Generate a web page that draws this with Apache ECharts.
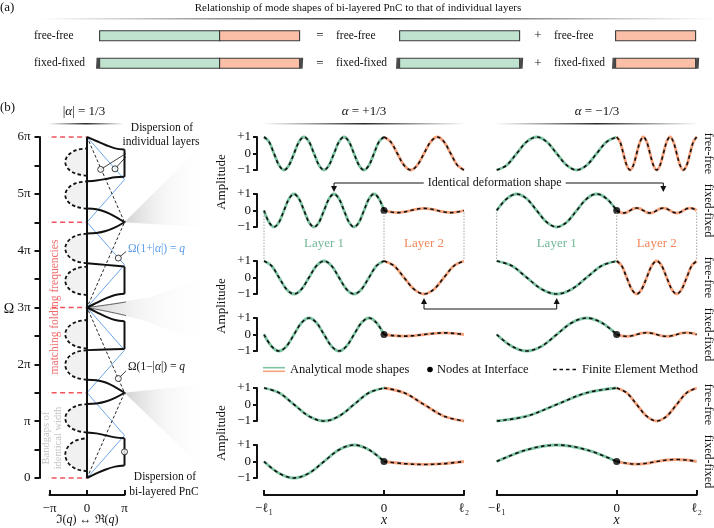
<!DOCTYPE html>
<html><head><meta charset="utf-8">
<script src="https://cdn.jsdelivr.net/npm/echarts@6.0.0/dist/echarts.min.js"></script>
<style>html,body{margin:0;padding:0;background:#fff;}#c{width:714px;height:528px;}</style>
</head><body><div id="c"></div>
<script>
// ================= DATA =================
// (a) schematic
const schematicRows = ['free-free', 'fixed-fixed'];
const layerLengths = [1.5, 1];            // l1, l2 (display units)
const barStarts = [0, 3.75, 6.45];        // bi-layer, layer 1 alone, layer 2 alone

// (b) dispersion, q in units of pi, Omega in units of pi
const omegaTicks = ['0', 'π', '2π', '3π', '4π', '5π', '6π'];
const qTicks = ['−π', '0', 'π'];
const foldMatch = [0, 1.5, 3, 4.5, 6];    // matching folding frequencies
const layer1Disp = [[0,0],[1,0.75],[0,1.5],[1,2.25],[0,3],[1,3.75],[0,4.5],[1,5.25],[0,6]];
const layer2Disp = [[0,0],[1,1.5],[0,3],[1,4.5],[0,6]];
const band1  = [[0,0],[0.25,0.08],[0.5,0.15],[0.75,0.2],[1,0.22]];
const band2  = [[1,0.70],[0.75,0.715],[0.5,0.75],[0.25,0.785],[0,0.80]];
const band3  = [[0,1.30],[0.25,1.31],[0.5,1.345],[0.75,1.41],[1,1.5]];
const band4  = [[1,1.5],[0.75,1.6],[0.5,1.68],[0.25,1.72],[0,1.73]];
const band5  = [[0,2.25],[0.5,2.26],[1,2.27]];
const band6  = [[1,2.76],[0.75,2.78],[0.5,2.84],[0.25,2.92],[0,3]];
const band7  = [[0,3],[0.25,3.08],[0.5,3.16],[0.75,3.22],[1,3.24]];
const band8  = [[1,3.72],[0.5,3.75],[0,3.78]];
const band9  = [[0,4.30],[0.25,4.31],[0.5,4.345],[0.75,4.41],[1,4.5]];
const band10 = [[1,4.5],[0.75,4.6],[0.5,4.68],[0.25,4.73],[0,4.74]];
const band11 = [[0,5.22],[0.25,5.235],[0.5,5.26],[0.75,5.29],[1,5.30]];
const band12 = [[1,5.78],[0.75,5.8],[0.5,5.86],[0.25,5.93],[0,6]];
const gapsAtPi = [[0.22,0.70],[2.27,2.76],[3.24,3.72],[5.30,5.78]];
const loopQ = [0,-0.29,-0.5,-0.58,-0.5,-0.29,0];
const loopOmega = [
  [0.12,0.159,0.265,0.41,0.555,0.661,0.70],
  [0.80,0.835,0.925,1.05,1.175,1.267,1.30],
  [1.73,1.765,1.86,1.99,2.12,2.215,2.25],
  [2.28,2.313,2.405,2.53,2.655,2.747,2.78],
  [3.22,3.253,3.345,3.47,3.595,3.687,3.72],
  [3.78,3.815,3.91,4.04,4.17,4.265,4.30],
  [4.74,4.772,4.86,4.98,5.10,5.188,5.22],
  [5.32,5.352,5.44,5.56,5.68,5.768,5.80]];
// wedges linking dispersion to mode shapes
const wedge45Upper = [[1,4.5],[3.39,6.07]];
const wedge45Lower = [[1,4.5],[3.39,4.40]];
const wedge3Upper = [[0,3],[1.68,3.18],[2.75,3.43],[3.39,3.80]];
const wedge3Lower = [[0,3],[1.49,2.78],[2.67,2.48],[3.39,2.25]];
const wedge15Upper = [[1,1.5],[3.39,1.67]];
const wedge15Lower = [[1,1.5],[3.39,-0.03]];
// annotation markers
const markIndiv = [[0.365,5.43],[0.747,5.44]];
const markBlue = [0.835,3.87];
const markBlack = [0.835,1.75];
const markBi = [1,0.46];

// mode shapes (amplitude samples, evenly spread over layer 1 [-l1,0] and layer 2 [0,l2])
const modeRows = ['free-free','fixed-fixed','free-free','fixed-fixed','free-free','fixed-fixed'];
const posR1L1 = [1,.71,0,-.71,-1,-.71,0,.71,1,.71,0,-.71,-1,-.71,0,.71,1,.71,0,-.71,-1,-.71,0,.71,1];
const posR1L2 = [1,.71,0,-.71,-1,-.71,0,.71,1,.71,0,-.71,-1];
const posR2L1 = [0,-.71,-1,-.71,0,.71,1,.71,0,-.71,-1,-.71,0,.71,1,.71,0,-.71,-1,-.71,0,.71,1,.71,0];
const posR2L2 = [0,-.09,-.13,-.09,0,.09,.13,.09,0,-.09,-.13,-.09,0];
const posR3L1 = [1,.71,0,-.71,-1,-.71,0,.71,1,.71,0,-.71,-1,-.71,0,.71,1];
const posR3L2 = [1,.71,0,-.71,-1,-.71,0,.71,1];
const posR4L1 = [0,-.71,-1,-.71,0,.71,1,.71,0,-.71,-1,-.71,0,.71,1,.71,0];
const posR4L2 = [0,-.07,-.1,-.07,0,.07,.1,.07,0];
const posR5L1 = [1,.71,0,-.71,-1,-.71,0,.71,1];
const posR5L2 = [1,.71,0,-.71,-1];
const posR6L1 = [0,-.71,-1,-.71,0,.71,1,.71,0];
const posR6L2 = [0,-.13,-.18,-.13,0];
const negR1L1 = [-1,-.71,0,.71,1,.71,0,-.71,-1,-.71,0,.71,1];
const negR1L2 = [1,.71,0,-.71,-1,-.71,0,.71,1,.71,0,-.71,-1,-.71,0,.71,1,.71,0,-.71,-1,-.71,0,.71,1];
const negR2L1 = [0,.71,1,.71,0,-.71,-1,-.71,0,.71,1,.71,0];
const negR2L2 = [0,-.11,-.15,-.11,0,.11,.15,.11,0,-.11,-.15,-.11,0,.11,.15,.11,0,-.11,-.15,-.11,0,.11,.15,.11,0];
const negR3L1 = [1,.71,0,-.71,-1,-.71,0,.71,1];
const negR3L2 = [1,.71,0,-.71,-1,-.71,0,.71,1,.71,0,-.71,-1,-.71,0,.71,1];
const negR4L1 = [0,-.71,-1,-.71,0,.71,1,.71,0];
const negR4L2 = [0,-.08,-.11,-.08,0,.08,.11,.08,0,-.08,-.11,-.08,0,.08,.11,.08,0];
const negR5L1 = [-1,-.71,0,.71,1];
const negR5L2 = [1,.71,0,-.71,-1,-.71,0,.71,1];
const negR6L1 = [0,.71,1,.71,0];
const negR6L2 = [0,-.11,-.16,-.11,0,.09,.12,.09,0];
const shapesPos = [[posR1L1,posR1L2],[posR2L1,posR2L2],[posR3L1,posR3L2],[posR4L1,posR4L2],[posR5L1,posR5L2],[posR6L1,posR6L2]];
const shapesNeg = [[negR1L1,negR1L2],[negR2L1,negR2L2],[negR3L1,negR3L2],[negR4L1,negR4L2],[negR5L1,negR5L2],[negR6L1,negR6L2]];
const xTickVals = [-1.5, 0, 1];
const xTickLabels = ['−ℓ₁', '0', 'ℓ₂'];

// ================= BUILD =================
const SERIF = '"Liberation Serif","DejaVu Serif",serif';
const GREEN = '#7cc3a1', ORANGE = '#f5a27d', GREEN_FILL = '#bfe3cf', ORANGE_FILL = '#fbbfa7';
const INK = '#111';
const grids = [], xAxes = [], yAxes = [], series = [];
const AXLINE = {show:true, onZero:false, lineStyle:{color:INK, width:2}};

// ---- grid 0 : schematic (a)
grids.push({left:0, top:22, width:714, height:55, outerBoundsMode:'none'});
xAxes.push({type:'value', gridIndex:0, min:-1.245, max:-1.245 + 714/80, show:false});
yAxes.push({type:'category', gridIndex:0, data:schematicRows, inverse:true, show:false});
const segs = [];
schematicRows.forEach((r, i) => {
  const l1 = layerLengths[0], l2 = layerLengths[1];
  segs.push([barStarts[0], barStarts[0] + l1, i, 0]);
  segs.push([barStarts[0] + l1, barStarts[0] + l1 + l2, i, 1]);
  segs.push([barStarts[1], barStarts[1] + l1, i, 0]);
  segs.push([barStarts[2], barStarts[2] + l2, i, 1]);
});
const caps = [
  [barStarts[0], 1, -1], [barStarts[0] + layerLengths[0] + layerLengths[1], 1, 1],
  [barStarts[1], 1, -1], [barStarts[1] + layerLengths[0], 1, 1],
  [barStarts[2], 1, -1], [barStarts[2] + layerLengths[1], 1, 1]];
series.push({type:'custom', xAxisIndex:0, yAxisIndex:0, data:segs, encode:{x:[0,1], y:2}, silent:true,
  renderItem:(p, api) => {
    const s = api.coord([api.value(0), api.value(2)]), e = api.coord([api.value(1), api.value(2)]);
    return {type:'rect', shape:{x:s[0], y:s[1]-5, width:e[0]-s[0], height:10},
      style:{fill: api.value(3) === 1 ? ORANGE_FILL : GREEN_FILL, stroke:'#3a3a3a', lineWidth:1.1}};
  }});
series.push({type:'custom', xAxisIndex:0, yAxisIndex:0, data:caps, encode:{x:0, y:1}, silent:true,
  renderItem:(p, api) => {
    const c = api.coord([api.value(0), api.value(1)]);
    const side = api.value(2);
    const x0 = side < 0 ? c[0] - 3.6 : c[0];
    return {type:'polygon', shape:{points:[[x0+0.6,c[1]-5.6],[x0+3.6,c[1]-5.6],[x0+3,c[1]+5.6],[x0,c[1]+5.6]]},
      style:{fill:'#4a4a4a'}};
  }});

// ---- grid 1 : dispersion
grids.push({left:49.5, top:137, width:75, height:341, outerBoundsMode:'none'});
xAxes.push({type:'value', gridIndex:1, min:-1, max:1, interval:1, offset:17, position:'bottom',
  axisLine:AXLINE,
  axisTick:{show:true, inside:true, length:5, lineStyle:{color:INK, width:2}},
  axisLabel:{formatter: v => qTicks[Math.round(v) + 1], fontSize:13, color:INK, fontFamily:SERIF, margin:7, showMinLabel:true, showMaxLabel:true},
  splitLine:{show:false}});
yAxes.push({type:'value', gridIndex:1, min:0, max:6, interval:0.5, offset:10, position:'left',
  axisLine:AXLINE,
  axisTick:{show:true, length:5, lineStyle:{color:INK, width:2}},
  axisLabel:{formatter: v => Math.abs(v - Math.round(v)) < 1e-6 ? omegaTicks[Math.round(v)] : '', fontSize:13, color:INK, fontFamily:SERIF, margin:9},
  splitLine:{show:false}});

const D = {xAxisIndex:1, yAxisIndex:1, symbol:'none', silent:true, clip:false, animation:false};
function poly(pts, fill, z) {
  return {type:'custom', xAxisIndex:1, yAxisIndex:1, z:z, silent:true, clip:false, data:[pts[0]],
    renderItem:(p, api) => ({type:'polygon', shape:{points:pts.map(q => api.coord(q))}, style:{fill:fill}})};
}
const wedgeFill = () => new echarts.graphic.LinearGradient(0,0,1,0,[
  {offset:0, color:'rgba(190,190,190,0.7)'}, {offset:0.45, color:'rgba(230,230,230,0.35)'}, {offset:1, color:'rgba(255,255,255,0)'}]);
series.push(poly([wedge45Upper[0], wedge45Upper[1], wedge45Lower[1]], wedgeFill(), 1));
series.push(poly(wedge3Upper.concat(wedge3Lower.slice(1).reverse()), wedgeFill(), 1));
series.push(poly([wedge15Upper[0], wedge15Upper[1], wedge15Lower[1]], wedgeFill(), 1));
[wedge45Upper, wedge45Lower, wedge15Upper, wedge15Lower].forEach(w =>
  series.push(Object.assign({type:'line', data:w, z:2, lineStyle:{color:'#555', width:0.9}}, D)));
[wedge3Upper, wedge3Lower].forEach(w =>
  series.push(Object.assign({type:'line', data:w, smooth:0.4, z:2, lineStyle:{color:'#555', width:0.9}}, D)));
foldMatch.forEach(o => series.push(Object.assign({type:'line', data:[[-1.17,o],[0,o]], z:3,
  lineStyle:{color:'#f0525e', width:1.3, type:[5,3.5]}}, D)));
loopOmega.forEach(om => {
  const pts = om.map((o, i) => [loopQ[i], o]);
  series.push(poly(pts, '#f1f1f1', 2));
  series.push(Object.assign({type:'line', data:pts, smooth:0.35, z:5, lineStyle:{color:INK, width:1.8, type:[3.5,2.5]}}, D));
});
series.push(Object.assign({type:'line', data:layer1Disp, z:4, lineStyle:{color:'#6ea6ea', width:1}}, D));
series.push(Object.assign({type:'line', data:layer2Disp, z:4, lineStyle:{color:INK, width:0.9, type:[3,2]}}, D));
series.push(Object.assign({type:'line', data:[[0,0],[0,6]], z:6, lineStyle:{color:INK, width:2}}, D));
[band1,band2,band3,band4,band5,band6,band7,band8,band9,band10,band11,band12].forEach(b =>
  series.push(Object.assign({type:'line', data:b, smooth:0.35, z:6, lineStyle:{color:INK, width:2}}, D)));
gapsAtPi.forEach(g => series.push(Object.assign({type:'line', data:[[1,g[0]],[1,g[1]]], z:6, lineStyle:{color:INK, width:2}}, D)));
const ptr = (a, b) => series.push(Object.assign({type:'line', data:[a,b], z:7, lineStyle:{color:INK, width:0.8}}, D));
ptr(markIndiv[0], [1.23,5.79]); ptr(markIndiv[1], [1.23,5.79]);
ptr(markBlue, [1.05,3.99]); ptr(markBlack, [1.05,1.89]); ptr(markBi, [1.44,0.11]);
series.push({type:'scatter', xAxisIndex:1, yAxisIndex:1, z:8, silent:true, symbolSize:6,
  data:[markIndiv[0], markIndiv[1], markBlue, markBlack, markBi],
  itemStyle:{color:'#fff', borderColor:INK, borderWidth:1}});

// ---- grids 2..13 : mode shapes
const rowTops = [137,194,261,318,388,445], rowH = 33, colLefts = [264,496.7], colW = 200;
const toPts = (ys, a, b) => ys.map((y, i) => [a + (b - a) * i / (ys.length - 1), y]);
const gIdx = (r, c) => 2 + r * 2 + c;
for (let r = 0; r < 6; r++) {
  for (let c = 0; c < 2; c++) {
    const gi = gIdx(r, c);
    grids.push({left:colLefts[c], top:rowTops[r], width:colW, height:rowH, outerBoundsMode:'none'});
    if (r === 5) {
      xAxes.push({type:'value', gridIndex:gi, min:-1.5, max:1, offset:17, position:'bottom',
        axisLine:AXLINE,
        axisTick:{show:true, inside:true, length:5, customValues:xTickVals, lineStyle:{color:INK, width:2}},
        axisLabel:{customValues:xTickVals, formatter: v => xTickLabels[xTickVals.indexOf(v)], fontSize:13, color:INK, fontFamily:SERIF, margin:7, showMinLabel:true, showMaxLabel:true},
        splitLine:{show:false}});
    } else {
      xAxes.push({type:'value', gridIndex:gi, min:-1.5, max:1, show:false});
    }
    if (c === 0) {
      yAxes.push({type:'value', gridIndex:gi, min:-1, max:1, interval:1, offset:7, position:'left',
        axisLine:AXLINE,
        axisTick:{show:true, length:4, lineStyle:{color:INK, width:2}},
        axisLabel:{formatter: v => v > 0 ? '+1' : (v < 0 ? '−1' : '0'), fontSize:13, color:INK, fontFamily:SERIF, margin:6, showMinLabel:true, showMaxLabel:true},
        splitLine:{show:false}});
    } else {
      yAxes.push({type:'value', gridIndex:gi, min:-1, max:1, show:false});
    }
    const sh = (c === 0 ? shapesPos : shapesNeg)[r];
    const p1 = toPts(sh[0], -1.5, 0), p2 = toPts(sh[1], 0, 1);
    const base = {xAxisIndex:gi, yAxisIndex:gi, type:'line', symbol:'none', smooth:0.35, silent:true, clip:false};
    series.push(Object.assign({data:p1, z:3, lineStyle:{color:GREEN, width:2.8}}, base));
    series.push(Object.assign({data:p2, z:3, lineStyle:{color:ORANGE, width:2.8}}, base));
    series.push(Object.assign({data:p1, z:4, lineStyle:{color:INK, width:1.6, type:[3.5,3.2]}}, base));
    series.push(Object.assign({data:p2, z:4, lineStyle:{color:INK, width:1.6, type:[3.5,3.2]}}, base));
    if (modeRows[r] === 'fixed-fixed') {
      series.push({type:'scatter', xAxisIndex:gi, yAxisIndex:gi, z:5, silent:true, symbolSize:7, data:[[0,0]], itemStyle:{color:'#000'}});
    }
  }
}

const chart = echarts.init(document.getElementById('c'), null, {renderer:'canvas'});
chart.setOption({animation:false, backgroundColor:'#fff', textStyle:{fontFamily:SERIF},
  grid:grids, xAxis:xAxes, yAxis:yAxes, series:series});

// ================= ANNOTATIONS =================
const px = (g, v) => chart.convertToPixel({xAxisIndex:g, yAxisIndex:g}, v);
function txt(text, x, y, o) {
  o = o || {};
  const size = o.size || 12, color = o.color || INK;
  const font = (o.italic ? 'italic ' : '') + size + 'px ' + SERIF;
  const st = {text:text, x:0, y:0, fill:color, font:font, align:o.align || 'center', verticalAlign:'middle',
    textAlign:o.align || 'center', textVerticalAlign:'middle'};
  if (o.rich) {
    st.rich = {i:{font:'italic ' + size + 'px ' + SERIF, fontStyle:'italic', fontSize:size, fontFamily:SERIF, fill:color},
               n:{font:size + 'px ' + SERIF, fontSize:size, fontFamily:SERIF, fill:color}};
  }
  return {type:'text', x:x, y:y, rotation:o.rot || 0, z:100, silent:true, style:st};
}
const line = (x1, y1, x2, y2, st) => ({type:'line', z:90, silent:true, shape:{x1, y1, x2, y2}, style:Object.assign({stroke:INK, lineWidth:1}, st || {})});
const underline = (x1, x2, y) => ({type:'rect', z:90, silent:true, shape:{x:x1, y:y, width:x2 - x1, height:1.4},
  style:{fill:new echarts.graphic.LinearGradient(0,0,1,0,[{offset:0,color:'rgba(60,60,60,0)'},{offset:0.5,color:'rgba(40,40,40,1)'},{offset:1,color:'rgba(60,60,60,0)'}])}});
const arrowHead = (x, y, dir) => ({type:'polygon', z:91, silent:true,
  shape:{points: dir > 0 ? [[x,y],[x-3,y-6],[x+3,y-6]] : [[x,y],[x-3,y+6],[x+3,y+6]]}, style:{fill:INK}});

const G = [];
G.push(txt('(a)', 0, 8, {size:13, align:'left'}));
G.push(txt('Relationship of mode shapes of bi-layered PnC to that of individual layers', 358, 8, {size:11}));
G.push(underline(40, 714, 18));
schematicRows.forEach((r, i) => {
  const y = px(0, [0, i])[1];
  G.push(txt(r, 34, y, {size:11.5, align:'left'}));
  G.push(txt('=', 320, y, {size:13}));
  G.push(txt(r, 336, y, {size:11.5, align:'left'}));
  G.push(txt('+', 538, y, {size:13}));
  G.push(txt(r, 554, y, {size:11.5, align:'left'}));
});
G.push(txt('(b)', 0, 108, {size:13, align:'left'}));
G.push(txt('|{i|α}| = 1/3', 84, 112, {size:13, rich:true}));
G.push(underline(48, 124, 123));
G.push(txt('Ω', 9, 309, {size:14}));
G.push(txt('ℑ({i|q}) ↔ ℜ({i|q})', px(1, [0,0])[0], 520, {size:12, rich:true}));
G.push(txt('x', px(gIdx(5,0), [0,0])[0], 520, {size:14, italic:true}));
G.push(txt('x', px(gIdx(5,1), [0,0])[0], 520, {size:14, italic:true}));
G.push(txt('Dispersion of', 162, 128, {size:11.5}));
G.push(txt('individual layers', 161, 142, {size:11.5}));
G.push(txt('Ω(1+|{i|α}|) = {i|q}', 128, 249, {size:11.5, align:'left', color:'#5b9be6', rich:true}));
G.push(txt('Ω(1−|{i|α}|) = {i|q}', 128, 367, {size:11.5, align:'left', rich:true}));
G.push(txt('Dispersion of', 165, 477, {size:11.5}));
G.push(txt('bi-layered PnC', 164, 492, {size:11.5}));
G.push(txt('matching folding frequencies', 55, 307, {size:11.5, color:'#f26c6c', rot:Math.PI/2}));
G.push(txt('Bandgaps of', 46, 438, {size:10.5, color:'#c4c4c4', rot:Math.PI/2}));
G.push(txt('identical width', 58, 438, {size:10.5, color:'#c4c4c4', rot:Math.PI/2}));
G.push(txt('{i|α} = +1/3', 364, 112, {size:13, rich:true}));
G.push(txt('{i|α} = −1/3', 597, 112, {size:13, rich:true}));
G.push(underline(262, 466, 123));
G.push(underline(495, 699, 123));
[[0,1],[2,3],[4,5]].forEach(pr => {
  const yc = (px(gIdx(pr[0],0), [0,1])[1] + px(gIdx(pr[1],0), [0,-1])[1]) / 2;
  G.push(txt('Amplitude', 222, yc, {size:13, rot:Math.PI/2}));
});
modeRows.forEach((m, r) => {
  const y = px(gIdx(r,1), [1,0])[1];
  G.push(txt(m, 708, y, {size:12, rot:-Math.PI/2}));
});
[0,1].forEach(c => {
  xTickVals.forEach(xv => {
    const a = px(gIdx(1,c), [xv,0]), b = px(gIdx(2,c), [xv,1]);
    G.push(line(a[0], a[1] + 2, b[0], b[1] - 1, {stroke:'#9a9a9a', lineWidth:0.9, lineDash:[1.5,1.5]}));
  });
  const ym = (px(gIdx(1,c), [0,-1])[1] + px(gIdx(2,c), [0,1])[1]) / 2;
  G.push(txt('Layer 1', px(gIdx(1,c), [-0.75,0])[0], ym, {size:13, color:'#72b895'}));
  G.push(txt('Layer 2', px(gIdx(1,c), [0.5,0])[0], ym, {size:13, color:'#f2875a'}));
});
{
  const a = px(gIdx(1,0), [-0.625,1]), b = px(gIdx(1,1), [0.583,0.15]);
  const tip = a[1] - 2, yl = a[1] - 11;
  G.push(line(a[0], yl, b[0], yl, {lineWidth:1}));
  G.push(line(a[0], yl, a[0], tip - 5, {lineWidth:1}));
  G.push(line(b[0], yl, b[0], tip - 5, {lineWidth:1}));
  G.push(arrowHead(a[0], tip, 1)); G.push(arrowHead(b[0], tip, 1));
  const t = txt('Identical deformation shape', (a[0] + b[0]) / 2 - 4, yl, {size:12});
  t.style.backgroundColor = '#fff'; t.style.padding = [0, 4];
  G.push(t);
}
{
  const a = px(gIdx(2,0), [0.5,-1]), b = px(gIdx(2,1), [-0.75,-1]);
  const tip = a[1] + 4, yl = a[1] + 15;
  G.push(line(a[0], yl, b[0], yl, {lineWidth:1}));
  G.push(line(a[0], yl, a[0], tip + 5, {lineWidth:1}));
  G.push(line(b[0], yl, b[0], tip + 5, {lineWidth:1}));
  G.push(arrowHead(a[0], tip, -1)); G.push(arrowHead(b[0], tip, -1));
}
{
  const yl = (px(gIdx(3,0), [0,-1])[1] + px(gIdx(4,0), [0,1])[1]) / 2;
  G.push(line(263, yl - 1.8, 285, yl - 1.8, {stroke:GREEN, lineWidth:1.6}));
  G.push(line(263, yl + 1.8, 285, yl + 1.8, {stroke:ORANGE, lineWidth:1.6}));
  G.push(txt('Analytical mode shapes', 290, yl, {size:12.5, align:'left'}));
  G.push({type:'circle', z:91, silent:true, shape:{cx:430, cy:yl, r:2.8}, style:{fill:'#000'}});
  G.push(txt('Nodes at Interface', 437, yl, {size:12.5, align:'left'}));
  G.push(line(553, yl, 577, yl, {lineWidth:1.6, lineDash:[3.5,3]}));
  G.push(txt('Finite Element Method', 582, yl, {size:12.5, align:'left'}));
}
chart.setOption({graphic:G});
</script></body></html>
